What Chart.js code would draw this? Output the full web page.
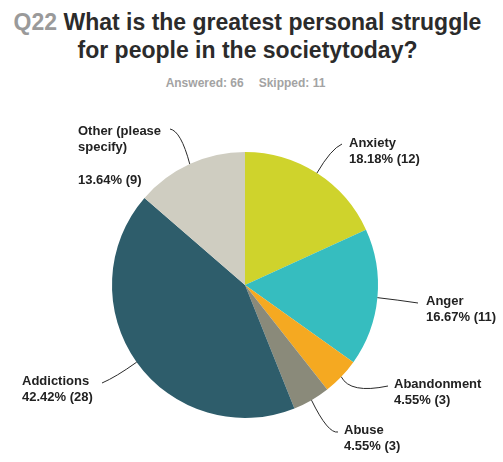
<!DOCTYPE html>
<html>
<head>
<meta charset="utf-8">
<script src="https://cdn.jsdelivr.net/npm/chart.js@4"></script>
<style>
  html, body { margin: 0; padding: 0; background: #fff; }
  #wrap { position: relative; width: 503px; height: 462px; overflow: hidden; }
  #title {
    position: absolute; left: 0; top: 8px; width: 495px;
    text-align: center; font: bold 23px "Liberation Sans", Arial, sans-serif;
    line-height: 28px; color: #2b2b2b;
  }
  #title .qnum { color: #9a9a9a; }
  #sub {
    position: absolute; left: 0; top: 76px; width: 491px; text-align: center;
    font: bold 12px "Liberation Sans", Arial, sans-serif; color: #a3a3a3;
  }
  #sub span + span { margin-left: 15px; }
  canvas { position: absolute; left: 0; top: 0; }
</style>
</head>
<body>
<div id="wrap">
  <div id="title"><span class="qnum">Q22</span> What is the greatest personal struggle<br>for people in the societytoday?</div>
  <div id="sub"><span>Answered: 66</span><span>Skipped: 11</span></div>
  <canvas id="pie" width="503" height="462"></canvas>
</div>
<script>
const categories = ["Anxiety", "Anger", "Abandonment", "Abuse", "Addictions", "Other (please specify)"];
const responses = [12, 11, 3, 3, 28, 9];
const sliceColors = ["#cfd32c", "#36bdbf", "#f5a921", "#8a8a7a", "#2e5d6b", "#cfcdc1"];

// where each callout sits: text anchor, end of the leader and its bend
const calloutLayout = [
  { lines: ["Anxiety"], x: 349, y: 143, end: [342, 144], ctrl: [331, 149] },
  { lines: ["Anger"], x: 426, y: 301, end: [418, 303], ctrl: [398, 300] },
  { lines: ["Abandonment"], x: 394, y: 384, end: [388, 386], ctrl: [350, 394] },
  { lines: ["Abuse"], x: 344, y: 430, end: [338, 432], ctrl: [328, 434] },
  { lines: ["Addictions"], x: 22, y: 381, end: [102, 383], ctrl: [116, 377] },
  { lines: ["Other (please", "specify)", ""], x: 78, y: 131, end: [170, 129], ctrl: [181, 131] },
];

const total = responses.reduce((a, b) => a + b, 0);

const calloutPlugin = {
  id: "callouts",
  afterDraw(chart) {
    const ctx = chart.ctx;
    const arcs = chart.getDatasetMeta(0).data;
    ctx.save();
    ctx.font = "bold 13px 'Liberation Sans', Arial, sans-serif";
    ctx.textBaseline = "middle";
    ctx.textAlign = "left";
    arcs.forEach((arc, i) => {
      const lay = calloutLayout[i];
      const mid = (arc.startAngle + arc.endAngle) / 2;
      const sx = arc.x + Math.cos(mid) * arc.outerRadius;
      const sy = arc.y + Math.sin(mid) * arc.outerRadius;
      ctx.strokeStyle = "#2a2a2a";
      ctx.lineWidth = 1;
      ctx.beginPath();
      ctx.moveTo(sx, sy);
      ctx.quadraticCurveTo(lay.ctrl[0], lay.ctrl[1], lay.end[0], lay.end[1]);
      ctx.stroke();

      const pct = (responses[i] / total * 100).toFixed(2) + "% (" + responses[i] + ")";
      const lines = lay.lines.concat([pct]);
      ctx.fillStyle = "#222";
      lines.forEach((t, k) => ctx.fillText(t, lay.x, lay.y + k * 16.5));
    });
    ctx.restore();
  },
};

new Chart(document.getElementById("pie"), {
  type: "pie",
  data: {
    labels: categories,
    datasets: [{
      data: responses,
      backgroundColor: sliceColors,
      borderWidth: 0,
    }],
  },
  options: {
    responsive: false,
    animation: false,
    layout: { padding: { left: 112, right: 125, top: 152, bottom: 44 } },
    plugins: {
      legend: { display: false },
      tooltip: { enabled: false },
    },
  },
  plugins: [calloutPlugin],
});
</script>
</body>
</html>
